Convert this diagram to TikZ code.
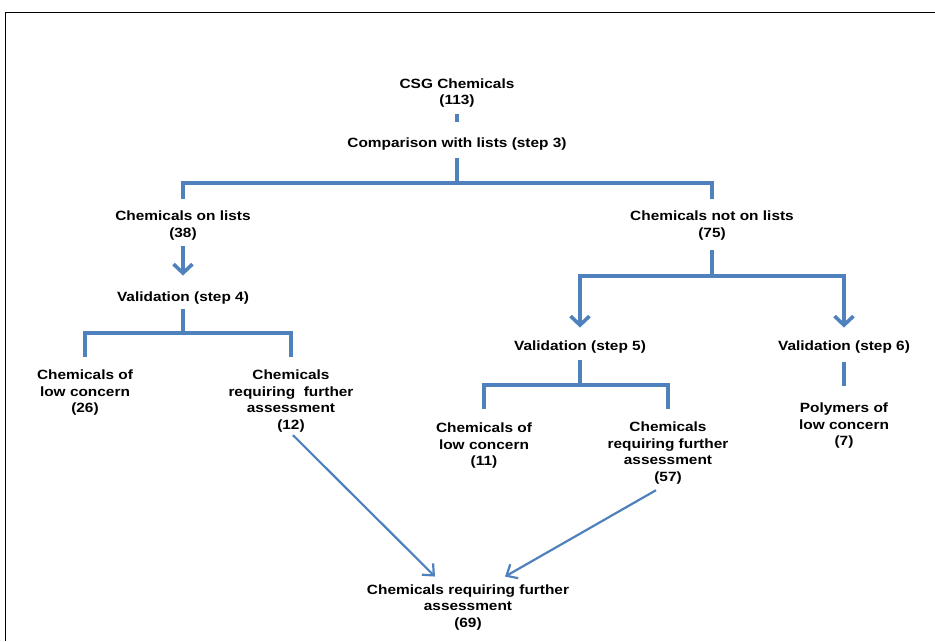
\documentclass[tikz,border=0pt]{standalone}
\usepackage{fontspec}
\setmainfont{Liberation Sans}[FakeStretch=1.15]
\definecolor{flowblue}{RGB}{79, 129, 189}
\usetikzlibrary{arrows.meta, positioning}

\begin{document}
\begin{tikzpicture}[x=1pt, y=-1pt,
  txt/.style={font=\fontsize{13.4}{16.5}\selectfont\bfseries, align=center, inner sep=0pt},
  bar/.style={draw=flowblue, line width=3.6pt},
  arr/.style={bar, -{Straight Barb[length=9pt, width=19pt]}},
  thinarr/.style={draw=flowblue, line width=2.2pt, -{Straight Barb[length=9pt, width=16pt]}}]
  \useasboundingbox (0, 0) rectangle (935, 641);

  % Frame
  \draw[line width=1pt] (5, 641) -- (5, 12) -- (935, 12);

  % Root
  \node[txt] (csg) at (457, 93) {CSG Chemicals\\(113)};
  \node[txt] (cmp) at (457, 144) {Comparison with lists (step 3)};
  \draw[bar, shorten <=6pt, shorten >=16pt] (csg.south) -- (cmp.north);

  % Level 1
  \node[txt] (onl) at (183, 225.5) {Chemicals on lists\\(38)};
  \node[txt] (nonl) at (712, 225.5) {Chemicals not on lists\\(75)};
  \coordinate (split1) at (457, 183);
  \draw[bar, shorten <=8pt] (cmp.south) -- (split1);
  \draw[bar, shorten >=12pt] (split1) -| (onl.north);
  \draw[bar, shorten >=12pt] (split1) -| (nonl.north);

  % Left branch (step 4)
  \node[txt] (val4) at (183, 298) {Validation (step 4)};
  \draw[arr, shorten <=6pt, shorten >=16pt] (onl.south) -- (val4.north);
  \node[txt] (low4) at (85, 393) {Chemicals of\\low concern\\(26)};
  \node[txt] (req4) at (291, 401) {Chemicals\\requiring\ \ further\\assessment\\(12)};
  \coordinate (split2) at (183, 333);
  \draw[bar, shorten <=5pt] (val4.south) -- (split2);
  \draw[bar, shorten >=13pt] (split2) -| (low4.north);
  \draw[bar, shorten >=13pt] (split2) -| (req4.north);

  % Right branch (steps 5 and 6)
  \node[txt] (val5) at (580, 347) {Validation (step 5)};
  \node[txt] (val6) at (844, 347) {Validation (step 6)};
  \coordinate (split3) at (712, 276);
  \draw[bar, shorten <=10pt] (nonl.south) -- (split3);
  \draw[arr, shorten >=13pt] (split3) -| (val5.north);
  \draw[arr, shorten >=13pt] (split3) -| (val6.north);

  \node[txt] (low5) at (484, 446) {Chemicals of\\low concern\\(11)};
  \node[txt] (req5) at (668, 453) {Chemicals\\requiring further\\assessment\\(57)};
  \coordinate (split4) at (580, 385);
  \draw[bar, shorten <=7pt] (val5.south) -- (split4);
  \draw[bar, shorten >=14pt] (split4) -| (low5.north);
  \draw[bar, shorten >=13pt] (split4) -| (req5.north);

  \node[txt] (poly) at (844, 426) {Polymers of\\low concern\\(7)};
  \draw[bar, shorten <=9pt, shorten >=17pt] (val6.south) -- (poly.north);

  % Merge
  \node[txt] (fin) at (468, 607.5) {Chemicals requiring further\\assessment\\(69)};
  \draw[thinarr] ([xshift=2pt, yshift=-3pt]req4.south) -- ([xshift=-33pt, yshift=8pt]fin.north);
  \draw[thinarr] ([xshift=-12pt, yshift=-6pt]req5.south) -- ([xshift=37pt, yshift=8pt]fin.north);
\end{tikzpicture}
\end{document}
